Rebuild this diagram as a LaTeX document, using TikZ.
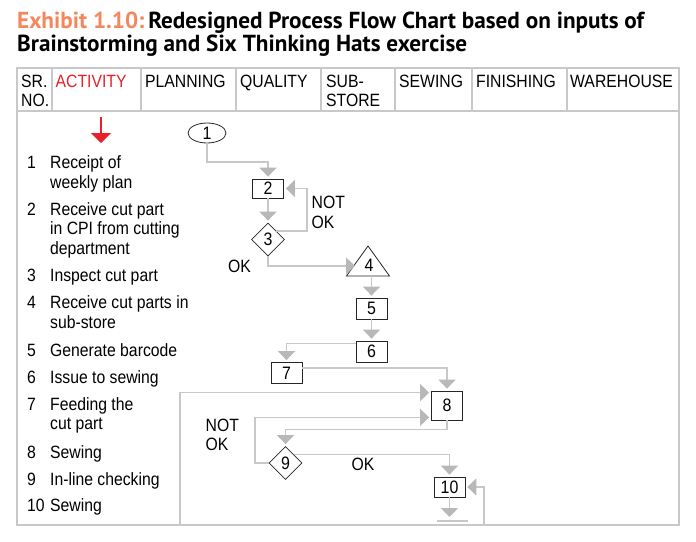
\documentclass[tikz,border=0pt]{standalone}
\usepackage{fontspec}
\setmainfont{Liberation Sans}[FakeStretch=0.885]
\newfontfamily\titlefont{PT Sans}
\usetikzlibrary{arrows.meta,shapes.geometric,calc}
\definecolor{linegray}{HTML}{C8C8C8}
\definecolor{arrgray}{HTML}{B8B8B8}
\definecolor{exred}{HTML}{E8202A}
\definecolor{exorange}{HTML}{F4875E}
\begin{document}
\begin{tikzpicture}[x=1pt,y=-1pt,
  txt/.style={inner sep=0pt, anchor=base west, font=\fontsize{17.8}{19.5}\selectfont, align=left},
  hdr/.style={inner sep=0pt, anchor=base west, font=\fontsize{17.8}{19.5}\selectfont, align=left},
  tbl/.style={draw=linegray, line width=1.3pt},
  box/.style={draw=black!85, line width=0.8pt, minimum width=31pt, minimum height=21pt, inner sep=0pt, font=\fontsize{18}{18}\selectfont},
  diam/.style={diamond, draw=black!85, line width=0.8pt, minimum width=33pt, minimum height=33pt, inner sep=0pt, font=\fontsize{18}{18}\selectfont},
  ell/.style={ellipse, draw=black!85, line width=0.8pt, minimum width=38pt, minimum height=20pt, inner sep=0pt, font=\fontsize{18}{18}\selectfont},
  flow/.style={draw=linegray, line width=1.3pt, -{Triangle[width=17pt,length=9pt,color=arrgray]}, shorten >=2pt},
  plain/.style={draw=linegray, line width=1.3pt}
]
\useasboundingbox (0,0) rectangle (696,541);
\fill[white] (0,0) rectangle (696,541);

% title
\node[inner sep=0pt, anchor=base west, font=\titlefont\bfseries\fontsize{23.2}{23.2}\selectfont] (t1) at (17,28)
  {\textcolor{exorange}{Exhibit 1.10:}\,Redesigned Process Flow Chart based on inputs of};
\node[inner sep=0pt, anchor=base west, font=\titlefont\bfseries\fontsize{23.2}{23.2}\selectfont] (t2) at (17,51)
  {Brainstorming and Six Thinking Hats exercise};

% table frame
\coordinate (tl) at (17,68);
\coordinate (br) at (679,525);
\draw[tbl] (tl) rectangle (br);
\draw[tbl] (17,111) -- (679,111);
\foreach \x in {52,141,236,321,395,472,567}
  \draw[tbl] (\x,68) -- (\x,111);

% header (base anchor = last line)
\node[hdr] (hsr) at (21,106.5) {SR.\\NO.};
\node[hdr, text=exred] (hact) at (55.5,87) {ACTIVITY};
\node[hdr] (hpl) at (145,87) {PLANNING};
\node[hdr] (hq) at (240,87) {QUALITY};
\node[hdr] (hss) at (326,106.5) {SUB-\\STORE};
\node[hdr] (hsew) at (399,87) {SEWING};
\node[hdr] (hfin) at (476,87) {FINISHING};
\node[hdr] (hwh) at (570,87) {WAREHOUSE};

% red arrow
\coordinate (ra1) at (101,117);
\coordinate (ra2) at (101,143);
\draw[draw=exred, line width=1.5pt, -{Triangle[width=20pt,length=10pt]}] (ra1) -- (ra2);

% activity list (base anchor = last line)
\node[txt] (a1n) at (27,168) {1};   \node[txt] (a1) at (50,188) {Receipt of\\weekly plan};
\node[txt] (a2n) at (27,215) {2};   \node[txt] (a2) at (50,254) {Receive cut part\\in CPI from cutting\\department};
\node[txt] (a3n) at (27,281.5) {3}; \node[txt] (a3) at (50,281.5) {Inspect cut part};
\node[txt] (a4n) at (27,308.5) {4}; \node[txt] (a4) at (50,328) {Receive cut parts in\\sub-store};
\node[txt] (a5n) at (27,356) {5};   \node[txt] (a5) at (50,356) {Generate barcode};
\node[txt] (a6n) at (27,383) {6};   \node[txt] (a6) at (50,383) {Issue to sewing};
\node[txt] (a7n) at (27,410) {7};   \node[txt] (a7) at (50,429.5) {Feeding the\\cut part};
\node[txt] (a8n) at (27,458) {8};   \node[txt] (a8) at (50,458) {Sewing};
\node[txt] (a9n) at (27,485) {9};   \node[txt] (a9) at (50,485) {In-line checking};
\node[txt] (a10n) at (27,511.5) {10}; \node[txt] (a10) at (50,511.5) {Sewing};

% flow nodes
\node[ell] (n1) at (207,133) {1};
\node[box, minimum height=19pt] (n2) at (268,188.5) {2};
\node[diam] (n3) at (268,239.5) {3};
\node[inner sep=0pt, font=\fontsize{18}{18}\selectfont] (n4) at (369,265) {4};
\coordinate (t4a) at (368,246);
\coordinate (t4l) at (346.5,276);
\coordinate (t4r) at (389.5,276);
\draw[draw=black!85, line width=0.8pt] (t4a) -- (t4l) -- (t4r) -- cycle;
\node[box] (n5) at (371.5,308.5) {5};
\node[box] (n6) at (371.5,351.5) {6};
\node[box] (n7) at (286.5,373) {7};
\node[box, minimum height=29pt] (n8) at (447,405.5) {8};
\node[diam] (n9) at (285.5,463) {9};
\node[box, minimum height=20pt] (n10) at (449.5,487) {10};

% labels
\node[txt] (nok1) at (311.5,228) {NOT\\OK};
\node[txt] (ok1) at (228,272.5) {OK};
\node[txt] (nok2) at (205.5,450.5) {NOT\\OK};
\node[txt] (ok2) at (351.5,470.5) {OK};

% connectors
\coordinate (c1) at (268,162);
\draw[flow] (n1.south) |- (c1) -- (n2.north);
\draw[flow] (n2.south) -- (n3.north);
\coordinate (c3r) at (307,0);
\draw[flow] (n3.north east) -| (n2.east -| c3r) -- (n2.east);
\coordinate (t4in) at (357,266);
\draw[flow] (n3.south) |- (t4in);
\coordinate (t4b) at (371.5,276);
\draw[flow] (t4b) -- (n5.north);
\draw[flow] (n5.south) -- (n6.north);
\draw[flow] ($(n6.north west)+(0,3)$) -| (n7.north);
\draw[flow] ($(n7.north east)+(0,6)$) -| (n8.north);
\coordinate (bl) at (180,525);
\draw[flow] (bl) |- ($(n8.north west)+(0,2)$);
\coordinate (cL) at (255,0);
\draw[flow] (n9.west) -- (n9.west -| cL) |- ($(n8.south west)+(0,-3)$);
\draw[flow] (n8.south) -- ++(0,9) -| (n9.north);
\draw[flow] (n9.north east) -| (n10.north);
\coordinate (endb) at (449.5,519);
\draw[flow] (n10.south) -- (endb);
\coordinate (bar1) at (437,521);
\coordinate (bar2) at (468,521);
\draw[plain] (bar1) -- (bar2);
\coordinate (brl) at (484,525);
\draw[flow] (brl) |- (n10.east);
\end{tikzpicture}
\end{document}
